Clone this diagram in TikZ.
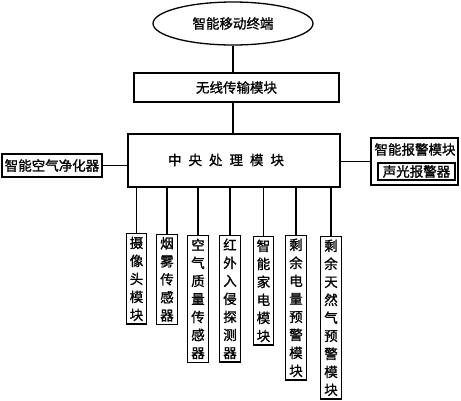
\documentclass[tikz,border=0pt]{standalone}
\usepackage{fontspec}
\newfontfamily\cjk{Noto Sans CJK SC}[FakeBold=1.2]
\usetikzlibrary{shapes.geometric}
\begin{document}
\begin{tikzpicture}[x=1pt,y=-1pt,
  every node/.style={font=\cjk\fontsize{13.5}{18}\selectfont},
  box/.style={draw,line width=1.3pt,inner sep=0pt},
  vbox/.style={draw,line width=1.3pt,inner xsep=3.5pt,inner ysep=3pt,align=center,anchor=north},
  wire/.style={line width=1.3pt}]
\useasboundingbox (0,0) rectangle (461,400);
\node[draw,ellipse,line width=1.3pt,minimum width=160pt,minimum height=43pt,inner sep=0pt] (term) at (233,23.5) {智能移动终端};
\node[box,minimum width=205pt,minimum height=29pt] (wl) at (236.5,87.5) {无线传输模块};
\node[box,minimum width=212pt,minimum height=53pt] (cpu) at (234,160.5) {};
\node (cput) at (226,160) {中\hspace{7pt}央\hspace{7pt}处\hspace{7pt}理\hspace{7pt}模\hspace{7pt}块};
\node[box,minimum width=100pt,minimum height=23pt] (air) at (52,165.5) {智能空气净化器};
\node[box,minimum width=87pt,minimum height=47pt] (alarm) at (414.5,161.5) {};
\node (alarmt) at (415,149.5) {智能报警模块};
\node[box,minimum width=77pt,minimum height=17pt] (sg) at (416.5,171.5) {声光报警器};
\draw[wire] (term.south) -- (wl.north -| term.south);
\draw[wire] (wl.south -| term.south) -- (cpu.north -| term.south);
\draw[wire] (air.east) -- (cpu.west |- air.east);
\draw[wire] (alarm.west) -- (cpu.east |- alarm.west);
\node[vbox] (b1) at (136.5,233) {摄\\像\\头\\模\\块};
\node[vbox] (b2) at (167,233.5) {烟\\雾\\传\\感\\器};
\node[vbox] (b3) at (198,235) {空\\气\\质\\量\\传\\感\\器};
\node[vbox] (b4) at (230,235) {红\\外\\入\\侵\\探\\测\\器};
\node[vbox] (b5) at (263.5,236) {智\\能\\家\\电\\模\\块};
\node[vbox] (b6) at (296,235) {剩\\余\\电\\量\\预\\警\\模\\块};
\node[vbox] (b7) at (331,236) {剩\\余\\天\\然\\气\\预\\警\\模\\块};
\foreach \b in {b1,b2,b3,b4,b5,b6,b7}
  \draw[wire] (\b.north) -- (cpu.south -| \b.north);
\end{tikzpicture}
\end{document}
